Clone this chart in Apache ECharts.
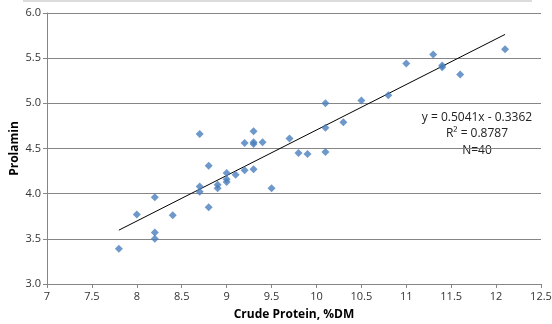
<!DOCTYPE html>
<html>
<head>
<meta charset="utf-8">
<script src="https://cdn.jsdelivr.net/npm/echarts@6/dist/echarts.min.js"></script>
<style>
  html, body { margin: 0; padding: 0; background: #fff; }
  #chart { width: 552px; height: 324px; }
</style>
</head>
<body>
<div id="chart"></div>
<script>
// crude protein (%DM) vs prolamin
const crudeProtein = [
  7.8, 8.0, 8.2, 8.2, 8.2, 8.4, 8.7, 8.7, 8.8, 8.8,
  8.9, 8.9, 9.0, 9.0, 9.0, 9.1, 9.2, 9.3, 9.5, 8.7,
  9.2, 9.3, 9.3, 9.3, 9.4, 9.7, 9.8, 9.9, 10.1, 10.1,
  10.1, 10.3, 10.5, 10.8, 11.0, 11.3, 11.4, 11.4, 11.6, 12.1
]
const prolamin = [
  3.39, 3.77, 3.96, 3.57, 3.50, 3.76, 4.08, 4.02, 4.31, 3.85,
  4.10, 4.06, 4.23, 4.16, 4.13, 4.21, 4.26, 4.27, 4.06, 4.66,
  4.56, 4.69, 4.57, 4.55, 4.57, 4.61, 4.45, 4.44, 4.46, 4.73,
  5.00, 4.79, 5.03, 5.09, 5.44, 5.54, 5.42, 5.40, 5.32, 5.60
]
// linear trendline end points
const trendX = [7.8, 12.1]
const trendY = [3.596, 5.763]
const trendText = ['y = 0.5041x - 0.3362', 'R² = 0.8787', 'N=40']

const points = crudeProtein.map((x, i) => [x, prolamin[i]])
const trend = trendX.map((x, i) => [x, trendY[i]])

const chart = echarts.init(document.getElementById('chart'))

const font = '"Open Sans", "Liberation Sans", sans-serif'

chart.setOption({
  animation: false,
  textStyle: { fontFamily: font },
  grid: { left: 47, right: 11, top: 13, bottom: 40, outerBoundsMode: 'none', containLabel: false },
  xAxis: {
    type: 'value',
    min: 7,
    max: 12.5,
    interval: 0.5,
    name: 'Crude Protein, %DM',
    nameLocation: 'middle',
    nameGap: 25,
    nameMoveOverlap: false,
    nameTextStyle: { fontWeight: 'bold', fontSize: 12, color: '#000', fontFamily: font },
    axisLine: { lineStyle: { color: '#868686' } },
    axisTick: { show: true, length: 4, lineStyle: { color: '#868686' } },
    axisLabel: { color: '#333', fontSize: 11, margin: 7, formatter: v => String(v) },
    splitLine: { show: false }
  },
  yAxis: {
    type: 'value',
    min: 3,
    max: 6,
    interval: 0.5,
    name: 'Prolamin',
    nameLocation: 'middle',
    nameGap: 26,
    nameMoveOverlap: false,
    nameTextStyle: { fontWeight: 'bold', fontSize: 12, color: '#000', fontFamily: font },
    axisLine: { show: true, lineStyle: { color: '#868686' } },
    axisTick: { show: true, length: 4, lineStyle: { color: '#868686' } },
    axisLabel: { color: '#333', fontSize: 11, margin: 6, formatter: v => v.toFixed(1) },
    splitLine: { show: true, lineStyle: { color: '#868686', width: 1 } }
  },
  graphic: [
    {
      type: 'rect',
      shape: { x: 23, y: 0, width: 509, height: 2 },
      style: { fill: '#dcdcdc' }
    },
    {
      type: 'text',
      x: 477,
      y: 109,
      style: {
        text: trendText.join('\n'),
        align: 'center',
        fill: '#222',
        fontSize: 12,
        lineHeight: 16.5,
        fontFamily: font
      }
    }
  ],
  series: [
    {
      type: 'scatter',
      data: points,
      symbol: 'diamond',
      symbolSize: 8,
      itemStyle: { color: '#4a7ebb' },
      z: 3
    },
    {
      type: 'line',
      data: trend,
      symbol: 'none',
      lineStyle: { color: '#000', width: 1 },
      z: 2
    }
  ]
})
</script>
</body>
</html>
